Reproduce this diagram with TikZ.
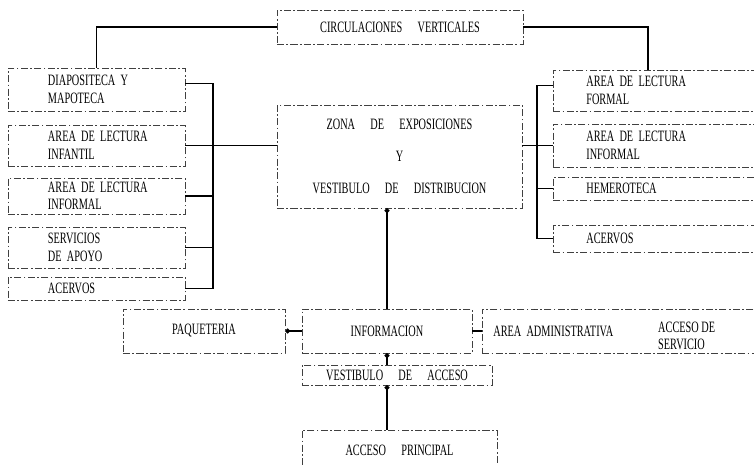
\documentclass[tikz,border=0pt]{standalone}
\usepackage{fontspec}
\setmainfont{Liberation Serif}[FakeStretch=0.65]
\usepackage{tikz}
\usetikzlibrary{arrows.meta,calc}
\newcommand{\esp}{\hspace{13pt}}

\begin{document}
\begin{tikzpicture}[
  x=0.03cm, y=-0.03cm,
  font=\fontsize{13.5}{15}\selectfont,
  sala/.style={draw=black!75, line width=0.55pt, dash pattern=on 6pt off 2pt on 1.5pt off 2pt, inner ysep=0pt},
  izq/.style={sala, text width=5.01cm, inner xsep=0.15cm, align=left, execute at begin node={\leftskip=1.05cm}},
  der/.style={sala, anchor=west, text width=6cm, inner xsep=0.15cm, align=left, execute at begin node={\leftskip=0.84cm}},
  enlace/.style={line width=1.4pt},
  punto/.style={enlace, {Circle[length=4pt]}-}
]
\useasboundingbox (0,0) rectangle (754,464);
\clip (0,0) rectangle (754,464);

% circulaciones
\node[sala, minimum width=7.38cm, minimum height=1.02cm] (circ) at (400,27) {CIRCULACIONES\esp VERTICALES};

% lado izquierdo
\node[izq, minimum height=1.29cm] (diap) at (96.5,89.5) {DIAPOSITECA Y\\MAPOTECA};
\node[izq, minimum height=1.23cm] (infan) at (96.5,145.5) {AREA DE LECTURA\\INFANTIL};
\node[izq, minimum height=1.08cm] (infoL) at (96.5,196) {AREA DE LECTURA\\INFORMAL};
\node[izq, minimum height=1.23cm] (serv) at (96.5,247.5) {SERVICIOS\\DE APOYO};
\node[izq, minimum height=0.69cm] (acerL) at (96.5,288.5) {ACERVOS};

% zona central
\node[sala, minimum width=7.35cm, minimum height=3.09cm, align=center] (zona) at (399.5,156.5)
  {ZONA\esp DE\esp EXPOSICIONES\\[12pt] Y\\[12pt] VESTIBULO\esp DE\esp DISTRIBUCION};

% lado derecho
\node[der, minimum height=1.23cm] (formal) at (553,90.5) {AREA DE LECTURA\\FORMAL};
\node[der, minimum height=1.29cm] (infoR) at (553,145.5) {AREA DE LECTURA\\INFORMAL};
\node[der, minimum height=0.69cm] (hemer) at (553,188.5) {HEMEROTECA};
\node[der, minimum height=0.81cm] (acerR) at (553,238.5) {ACERVOS};

% acceso
\node[sala, minimum width=4.86cm, minimum height=1.32cm] (paq) at (204,331) {PAQUETERIA};
\node[sala, minimum width=5.1cm, minimum height=1.32cm] (info) at (387,331) {INFORMACION};
\node[sala, anchor=west, minimum height=1.32cm, text width=8cm, inner xsep=0.33cm, align=left] (admin) at (482,331) {AREA ADMINISTRATIVA};
\node[anchor=west, align=left, inner sep=0pt] (servic) at (658,336) {ACCESO DE\\SERVICIO};
\node[sala, minimum width=5.7cm, minimum height=0.6cm] (vest) at (397,375) {VESTIBULO\esp DE\esp ACCESO};
\node[sala, minimum width=5.85cm, minimum height=1.2cm] (princ) at (399.5,450) {ACCESO\esp PRINCIPAL};

% enlaces
\coordinate (busL) at (213,0);
\coordinate (busR) at (537,0);
\draw[enlace] (circ.west) -| (diap.north);
\draw[enlace] (circ.east) -| ($(formal.north west)+(95,0)$);
\draw[enlace] ($(diap.east)+(0,-6)$) -| (busL |- acerL.east) -- (acerL.east);
\foreach \s in {infan,infoL,serv}
  \draw[enlace] (\s.east) -- (\s.east -| busL);
\draw[enlace] (infan.east -| busL) -- (zona.west |- infan.east);
\draw[enlace] ($(formal.west)+(0,-5)$) -| (busR |- acerR.west) -- (acerR.west);
\foreach \s in {infoR,hemer}
  \draw[enlace] (\s.west) -- (\s.west -| busR);
\draw[enlace] (zona.east |- infoR.west) -- (infoR.west -| busR);
\draw[punto] (zona.south -| info.north) -- (info.north);
\draw[punto] (paq.east) -- (info.west);
\draw[enlace] (info.east) -- (admin.west);
\draw[punto] (info.south) -- (info.south |- vest.north);
\draw[punto] (vest.south -| info.south) -- (princ.north -| info.south);
\end{tikzpicture}
\end{document}
